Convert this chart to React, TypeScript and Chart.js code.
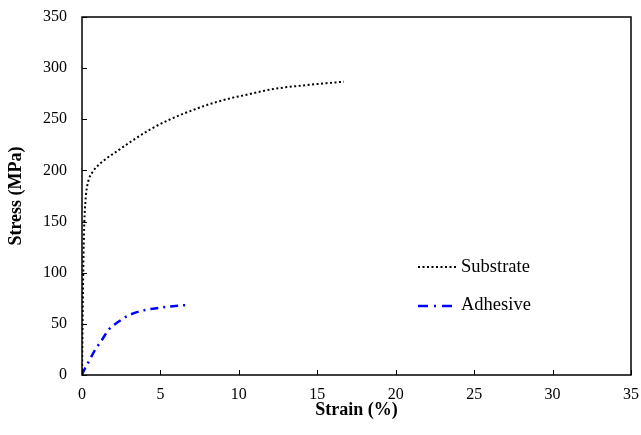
import React, { useEffect, useRef } from "react";
import { Chart, registerables } from "chart.js";

Chart.register(...registerables);

const substrateX = [0, 0.03, 0.06, 0.1, 0.15, 0.22, 0.3, 0.45, 0.65, 0.9, 1.5, 2.3, 3.1, 4.34, 5.62, 6.9, 8.17, 9.45, 10.5, 12.2, 14.35, 16.7];
const substrateY = [0, 40, 80, 120, 150, 170, 182, 192, 198, 203, 211, 219.5, 228, 240, 250, 258, 265, 270.5, 274, 279.6, 283.5, 286.8];
const adhesiveX = [0, 0.04, 0.45, 0.83, 1.26, 1.68, 2.32, 3.07, 4.02, 4.98, 5.8, 6.8];
const adhesiveY = [0, 1.6, 13.7, 24.4, 34, 44, 52, 59, 63.5, 65.8, 67.3, 68.5];
const xTicks = [0, 5, 10, 15, 20, 25, 30, 35];
const yTicks = [0, 50, 100, 150, 200, 250, 300, 350];
const seriesNames = ["Substrate", "Adhesive"];
const xTitle = "Strain (%)";
const yTitle = "Stress (MPa)";

const FONT = "'Liberation Serif', 'Times New Roman', serif";

export default function App() {
  const ref = useRef<HTMLCanvasElement | null>(null);
  useEffect(() => {
    document.body.style.margin = "0";
    const canvas = ref.current!;
    const framePlugin = {
      id: "frame",
      afterDraw(chart: any) {
        const { ctx, chartArea: a, scales } = chart;
        const xs = scales.x, ys = scales.y;
        ctx.save();
        ctx.strokeStyle = "#000";
        ctx.lineWidth = 1.5;
        ctx.setLineDash([]);
        ctx.strokeRect(a.left, a.top, a.right - a.left, a.bottom - a.top);
        ctx.lineWidth = 1;
        xTicks.forEach((v) => {
          const p = Math.round(xs.getPixelForValue(v)) + 0.5;
          ctx.beginPath();
          ctx.moveTo(p, a.bottom);
          ctx.lineTo(p, a.bottom - 5);
          ctx.stroke();
        });
        yTicks.forEach((v) => {
          const p = Math.round(ys.getPixelForValue(v)) + 0.5;
          ctx.beginPath();
          ctx.moveTo(a.left, p);
          ctx.lineTo(a.left + 5, p);
          ctx.stroke();
        });
        // titles
        ctx.fillStyle = "#000";
        ctx.font = `bold 18px ${FONT}`;
        ctx.textAlign = "center";
        ctx.textBaseline = "middle";
        ctx.fillText(xTitle, (a.left + a.right) / 2, 410);
        ctx.save();
        ctx.translate(16, (a.top + a.bottom) / 2);
        ctx.rotate(-Math.PI / 2);
        ctx.fillText(yTitle, 0, 0);
        ctx.restore();
        // legend
        ctx.font = `18.5px ${FONT}`;
        ctx.textAlign = "left";
        ctx.lineWidth = 2;
        ctx.strokeStyle = "#000";
        ctx.setLineDash([2, 2.5]);
        ctx.beginPath();
        ctx.moveTo(418, 267);
        ctx.lineTo(457, 267);
        ctx.stroke();
        ctx.fillText(seriesNames[0], 461, 267);
        ctx.strokeStyle = "#0000FF";
        ctx.lineWidth = 2.5;
        ctx.setLineDash([10, 6, 2, 6]);
        ctx.beginPath();
        ctx.moveTo(418, 306);
        ctx.lineTo(453, 306);
        ctx.stroke();
        ctx.fillText(seriesNames[1], 461, 305);
        ctx.restore();
      },
    };
    const chart = new Chart(canvas, {
      type: "scatter",
      data: {
        datasets: [
          {
            label: seriesNames[0],
            data: substrateX.map((x, i) => ({ x, y: substrateY[i] })),
            showLine: true,
            borderColor: "#000",
            borderWidth: 2,
            borderDash: [2, 2.5],
            pointRadius: 0,
            cubicInterpolationMode: "monotone",
          },
          {
            label: seriesNames[1],
            data: adhesiveX.map((x, i) => ({ x, y: adhesiveY[i] })),
            showLine: true,
            borderColor: "#0000FF",
            borderWidth: 2.5,
            borderDash: [8, 5, 2, 5],
            pointRadius: 0,
            cubicInterpolationMode: "monotone",
          },
        ],
      },
      options: {
        animation: false,
        responsive: false,
        maintainAspectRatio: false,
        layout: { padding: { top: 17, right: 10, left: 0, bottom: 0 } },
        plugins: { legend: { display: false }, tooltip: { enabled: false } },
        scales: {
          x: {
            type: "linear",
            min: 0,
            max: 35,
            grid: { display: false, drawTicks: false },
            border: { display: false },
            afterFit: (s: any) => { s.height = 60; s.paddingLeft = 0; s.paddingRight = 0; },
            afterBuildTicks: (s: any) => { s.ticks = xTicks.map((v) => ({ value: v })); },
            ticks: { padding: 10, color: "#000", font: { family: FONT, size: 16 }, maxRotation: 0 },
          },
          y: {
            type: "linear",
            min: 0,
            max: 350,
            grid: { display: false, drawTicks: false },
            border: { display: false },
            afterFit: (s: any) => { s.width = 82; s.paddingTop = 0; s.paddingBottom = 0; },
            afterBuildTicks: (s: any) => { s.ticks = yTicks.map((v) => ({ value: v })); },
            ticks: { padding: 15, color: "#000", font: { family: FONT, size: 16 } },
          },
        },
      },
      plugins: [framePlugin],
    } as any);
    return () => chart.destroy();
  }, []);
  return (
    <div style={{ width: 641, height: 435 }}>
      <canvas ref={ref} width={641} height={435} style={{ display: "block" }} />
    </div>
  );
}
